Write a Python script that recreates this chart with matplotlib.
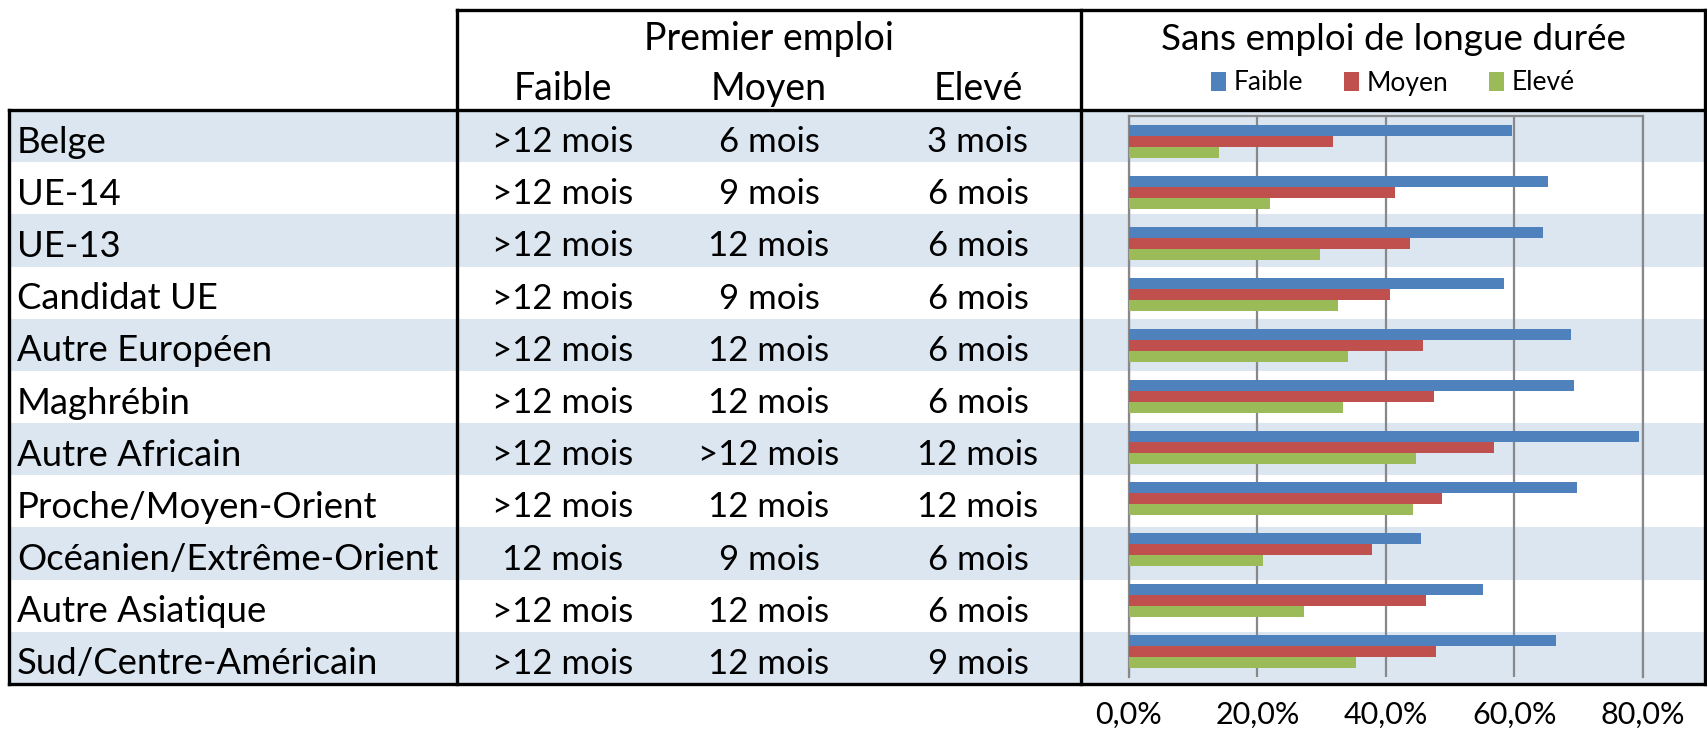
import numpy as np
import matplotlib
matplotlib.use("Agg")
import matplotlib.pyplot as plt
from matplotlib.ticker import FuncFormatter

plt.rcParams["font.family"] = ["Lato", "DejaVu Sans"]

# ------------------------------------------------------------------
# data
# ------------------------------------------------------------------
categories = ["Belge", "UE-14", "UE-13", "Candidat UE", "Autre Européen",
              "Maghrébin", "Autre Africain", "Proche/Moyen-Orient",
              "Océanien/Extrême-Orient", "Autre Asiatique",
              "Sud/Centre-Américain"]
levels = ["Faible", "Moyen", "Elevé"]

# Premier emploi (table part)
premier_faible = [">12 mois", ">12 mois", ">12 mois", ">12 mois", ">12 mois",
                  ">12 mois", ">12 mois", ">12 mois", "12 mois", ">12 mois",
                  ">12 mois"]
premier_moyen = ["6 mois", "9 mois", "12 mois", "9 mois", "12 mois", "12 mois",
                 ">12 mois", "12 mois", "9 mois", "12 mois", "12 mois"]
premier_eleve = ["3 mois", "6 mois", "6 mois", "6 mois", "6 mois", "6 mois",
                 "12 mois", "12 mois", "6 mois", "6 mois", "9 mois"]

# Sans emploi de longue duree (%)
chomage_faible = [59.6, 65.2, 64.4, 58.3, 68.8, 69.2, 79.4, 69.7, 45.4, 55.1, 66.4]
chomage_moyen = [31.7, 41.4, 43.8, 40.6, 45.8, 47.4, 56.8, 48.7, 37.8, 46.2, 47.8]
chomage_eleve = [14.0, 22.0, 29.7, 32.5, 34.1, 33.3, 44.6, 44.2, 20.8, 27.3, 35.3]

xticks = [0.0, 20.0, 40.0, 60.0, 80.0]
colors = ["#4F81BD", "#C0504D", "#9BBB59"]
stripe = "#DCE6F1"

# ------------------------------------------------------------------
# layout (pixels)
# ------------------------------------------------------------------
W, H = 1708, 729
left, col1, col2, right = 9, 457, 1081, 1705
top, head_bot, bot = 10, 110, 684
n = len(categories)
row_h = (bot - head_bot) / n

fig = plt.figure(figsize=(W / 100, H / 100), dpi=100)
bg = fig.add_axes([0, 0, 1, 1])
bg.set_xlim(0, W)
bg.set_ylim(H, 0)
bg.axis("off")

# striped rows
for i in range(0, n, 2):
    y0 = head_bot + i * row_h
    bg.fill_between([left, right], y0, y0 + row_h, color=stripe, lw=0, zorder=0)

# borders
lw = 2.4
kw = dict(color="black", lw=lw, solid_capstyle="projecting", zorder=5)
bg.plot([col1, right], [top, top], **kw)
bg.plot([left, right], [head_bot, head_bot], **kw)
bg.plot([left, right], [bot, bot], **kw)
bg.plot([left, left], [head_bot, bot], **kw)
for x in (col1, col2, right):
    bg.plot([x, x], [top, bot], **kw)

# headers
col_x = [563, 769, 978]
bg.text((col1 + col2) / 2, 39, "Premier emploi", ha="center", va="center", fontsize=27)
for x, lab in zip(col_x, levels):
    bg.text(x, 89, lab, ha="center", va="center", fontsize=27)
bg.text((col2 + right) / 2, 39, "Sans emploi de longue durée",
        ha="center", va="center", fontsize=26.6)

# table body
for i, cat in enumerate(categories):
    yc = head_bot + (i + 0.5) * row_h + 6
    bg.text(17, yc, cat, ha="left", va="center", fontsize=26.3)
    for x, col in zip(col_x, (premier_faible, premier_moyen, premier_eleve)):
        bg.text(x, yc, col[i], ha="center", va="center", fontsize=25)

# ------------------------------------------------------------------
# bar chart
# ------------------------------------------------------------------
px0, px1, py0, py1 = 1129, 1643, 116, 677
ax = fig.add_axes([px0 / W, 1 - py1 / H, (px1 - px0) / W, (py1 - py0) / H])
ax.patch.set_alpha(0)

y = np.arange(n)
h = 0.21
for k, (vals, c, lab) in enumerate(zip((chomage_faible, chomage_moyen, chomage_eleve),
                                        colors, levels)):
    ax.barh(y + (k - 1) * h, vals, height=h, color=c, label=lab, zorder=3)

ax.set_xlim(0, 80)
ax.set_ylim(n - 0.5, -0.5)
ax.set_yticks([])
ax.set_xticks(xticks)
ax.xaxis.set_major_formatter(FuncFormatter(lambda v, p: f"{v:.1f}%".replace(".", ",")))
ax.tick_params(axis="x", length=0, pad=17, labelsize=22)
ax.grid(axis="x", color="#888888", lw=1.6, zorder=1)
for s in ("left", "right", "top"):
    ax.spines[s].set_color("#888888")
    ax.spines[s].set_linewidth(1.6)
ax.spines["bottom"].set_visible(False)

fig.legend(loc="center", bbox_to_anchor=((col2 + right) / 2 / W, 1 - 83 / H),
           ncol=3, frameon=False, fontsize=19, handlelength=0.55, handleheight=0.75,
           handletextpad=0.3, columnspacing=1.55)

fig.savefig("out.png", dpi=100)
